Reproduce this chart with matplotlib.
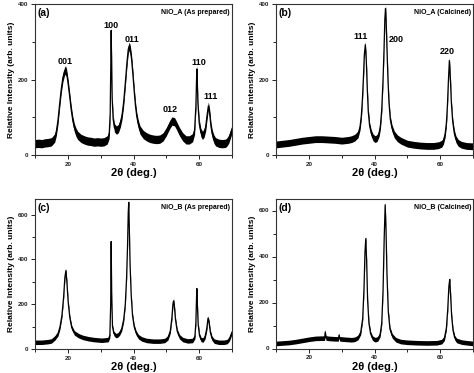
import matplotlib
matplotlib.use("Agg")
import matplotlib.pyplot as plt
import numpy as np
from matplotlib.ticker import MultipleLocator

plt.rcParams['font.family'] = ['Liberation Sans', 'DejaVu Sans']

# ---------------- data ----------------
two_theta_a = [10, 11, 12, 13, 14, 15, 16, 16.5, 17, 17.5, 18, 18.5, 19, 19.3, 19.6, 20, 20.5, 21,
               21.5, 22, 22.5, 23, 24, 25, 26, 27, 28, 29, 30, 31, 32, 32.6, 32.9, 33.1, 33.2, 33.3,
               33.5, 33.8, 34.2, 34.8, 35.4, 36, 36.5, 37, 37.5, 38, 38.4, 38.7, 39.0, 39.4, 39.8,
               40.2, 40.6, 41, 41.5, 42, 43, 44, 45, 46, 47, 48, 49, 50, 51, 51.7, 52.5, 53, 54, 55,
               56, 57, 58, 58.6, 59.0, 59.2, 59.3, 59.4, 59.6, 60.0, 60.5, 61.0, 61.5, 62.0, 62.4,
               62.8, 63.2, 63.6, 64.0, 64.5, 65, 66, 67, 68, 68.5, 69, 69.5, 70]
intensity_a = [30, 31, 30, 32, 33, 35, 45, 62, 92, 135, 175, 205, 222, 225, 218, 195, 160, 122,
               92, 72, 60, 52, 44, 40, 37, 36, 34, 35, 34, 35, 40, 55, 110, 250, 330, 270,
               150, 95, 72, 66, 70, 85, 105, 140, 190, 245, 280, 288, 280, 255, 215,
               170, 130, 102, 80, 66, 54, 48, 44, 42, 41, 42, 48, 62, 80, 90, 88, 80, 62, 48,
               40, 40, 46, 65, 130, 200, 228, 205, 140, 85, 60, 52, 58, 75, 105,
               130, 110, 75, 55, 42, 35, 31, 30, 31, 35, 42, 55, 68]

two_theta_b = [10, 12, 14, 16, 18, 20, 22, 24, 26, 28, 30, 32, 33, 34, 35, 35.6, 36.0, 36.3, 36.6,
               36.9, 37.2, 37.5, 37.8, 38.1, 38.5, 39.0, 39.6, 40.2, 40.8, 41.4, 41.8, 42.2, 42.6,
               42.9, 43.15, 43.35, 43.55, 43.8, 44.1, 44.4, 44.8, 45.3, 46, 47, 48, 50, 52, 54, 56,
               58, 59.5, 60.5, 61.0, 61.5, 61.9, 62.2, 62.5, 62.8, 63.1, 63.4, 63.8, 64.3, 64.8,
               65.5, 66.5, 68, 70]
intensity_b = [28, 30, 32, 35, 38, 40, 42, 42, 41, 40, 38, 40, 42, 46, 55, 75, 105, 145, 200,
               265, 292, 250, 175, 115, 78, 58, 46, 42, 45, 58, 78, 120, 200,
               280, 360, 388, 355, 280, 200, 140, 95, 72, 55, 44, 38, 30, 27, 25, 24,
               24, 26, 30, 38, 55, 85, 130, 195, 250, 205, 140, 90, 58, 42,
               32, 27, 24, 23]

two_theta_c = [10, 12, 14, 15, 16.1, 17.0, 17.6, 18.2, 18.7, 19.1, 19.4, 19.7, 20.1, 20.6, 21.2,
               22.0, 23.2, 24.5, 26.2, 28, 30.3, 32.3, 32.8, 33.05, 33.2, 33.35, 33.6, 34.0, 34.6,
               35.2, 35.8, 36.4, 37.0, 37.5, 37.9, 38.2, 38.4, 38.55, 38.7, 38.95, 39.3, 39.7, 40.2,
               40.8, 41.5, 42.5, 44, 46, 48, 49.5, 50.5, 51.2, 51.7, 52.0, 52.2, 52.45, 52.8, 53.3,
               54.0, 55, 56.5, 58, 58.7, 59.0, 59.2, 59.3, 59.45, 59.7, 60.1, 60.6, 61.2, 61.8,
               62.3, 62.7, 63.0, 63.4, 63.9, 64.6, 66, 67.5, 68.5, 69.2, 69.6, 70]
intensity_c = [30, 30, 33, 36, 50, 68, 98, 150, 230, 320, 350, 300, 210, 140, 95,
               72, 60, 52, 46, 42, 39, 42, 60, 200, 480, 250, 100, 70, 60,
               62, 72, 90, 130, 200, 320, 470, 610, 655, 560, 380, 240, 150, 100,
               72, 55, 45, 38, 35, 35, 38, 50, 80, 140, 200, 215, 190, 130, 80,
               55, 42, 36, 38, 55, 120, 230, 270, 200, 110, 60, 42, 40, 55,
               90, 138, 120, 75, 48, 35, 30, 30, 33, 45, 60, 75]

two_theta_d = [10, 12, 14, 16, 18, 20, 22, 24, 24.8, 25.0, 25.2, 26, 28, 29, 29.2, 29.4, 31, 33,
               34, 35, 35.8, 36.4, 36.8, 37.1, 37.35, 37.6, 37.9, 38.3, 38.8, 39.4, 40.2, 41.0,
               41.7, 42.2, 42.6, 42.95, 43.25, 43.5, 43.8, 44.2, 44.7, 45.4, 46.5, 48, 50, 53, 56,
               59, 60.5, 61.3, 61.9, 62.3, 62.65, 62.9, 63.15, 63.5, 63.9, 64.4, 65, 66.5, 68, 70]
intensity_d = [22, 24, 26, 30, 35, 40, 44, 45, 45, 72, 46, 44, 42, 42, 58, 42, 40, 38,
               40, 48, 70, 130, 260, 420, 478, 380, 210, 110, 65, 45, 38, 42,
               60, 110, 250, 480, 625, 520, 320, 160, 85, 55, 38, 30, 27, 25, 24,
               25, 30, 45, 90, 170, 270, 300, 240, 140, 80, 48, 35, 28, 25, 22]

noise_a, noise_b, noise_c, noise_d = 11, 9, 10, 10

peaks_a = ["001", "100", "011", "012", "110", "111"]
peak_pos_a = [(19.1, 247), (33.2, 344), (39.6, 306), (51.3, 121), (60.0, 246), (63.6, 154)]
peaks_b = ["111", "200", "220"]
peak_pos_b = [(35.9, 315), (46.6, 305), (62.1, 275)]

panel_letters = ["(a)", "(b)", "(c)", "(d)"]
sample_names = ["NiO_A (As prepared)", "NiO_A (Calcined)", "NiO_B (As prepared)", "NiO_B (Calcined)"]
ylims = [400, 400, 670, 650]
xlabel = "2θ (deg.)"
ylabel = "Relative Intensity (arb. units)"

# ---------------- figure ----------------
W, H = 474, 373
fig = plt.figure(figsize=(W / 100, H / 100), dpi=100)

def rect(l, t, r, b):
    return [l / W, 1 - b / H, (r - l) / W, (b - t) / H]

rects = [rect(35, 4, 232, 155), rect(276, 4, 473, 155),
         rect(35, 199, 232, 349), rect(276, 199, 473, 348.5)]
xs = [two_theta_a, two_theta_b, two_theta_c, two_theta_d]
ys = [intensity_a, intensity_b, intensity_c, intensity_d]
noises = [noise_a, noise_b, noise_c, noise_d]

for i in range(4):
    ax = fig.add_axes(rects[i])
    x = np.array(xs[i], dtype=float)
    y = np.array(ys[i], dtype=float)
    ax.fill_between(x, y - noises[i], y + noises[i], color='black', lw=0)
    ax.plot(x, y, color='black', lw=0.9)
    ax.set_xlim(10, 70)
    ax.set_ylim(0, ylims[i])
    ax.xaxis.set_major_locator(MultipleLocator(20))
    ax.xaxis.set_minor_locator(MultipleLocator(10))
    ax.yaxis.set_major_locator(MultipleLocator(200))
    ax.yaxis.set_minor_locator(MultipleLocator(100))
    ax.tick_params(which='both', direction='out', top=False, right=False,
                   labelsize=4.5, width=0.7, colors='#222222', pad=2)
    ax.tick_params(which='major', length=3)
    ax.tick_params(which='minor', length=2)
    for lab in ax.get_xticklabels() + ax.get_yticklabels():
        lab.set_fontweight('bold')
    for s in ax.spines.values():
        s.set_linewidth(0.8)
        s.set_color('#333333')
    ax.set_xlabel(xlabel, fontsize=8, fontweight='bold', labelpad=1)
    ax.set_ylabel(ylabel, fontsize=6, fontweight='bold', labelpad=2)
    ax.text(0.012, 0.94, panel_letters[i], transform=ax.transAxes, fontsize=7.5,
            fontweight='bold', ha='left', va='center')
    ax.text(0.99, 0.945, sample_names[i], transform=ax.transAxes, fontsize=5,
            fontweight='bold', ha='right', va='center')
    if i == 0:
        for t, (px, py) in zip(peaks_a, peak_pos_a):
            ax.text(px, py, t, fontsize=6.5, fontweight='bold', ha='center', va='center')
    if i == 1:
        for t, (px, py) in zip(peaks_b, peak_pos_b):
            ax.text(px, py, t, fontsize=6.5, fontweight='bold', ha='center', va='center')

fig.savefig("out.png", dpi=100)
